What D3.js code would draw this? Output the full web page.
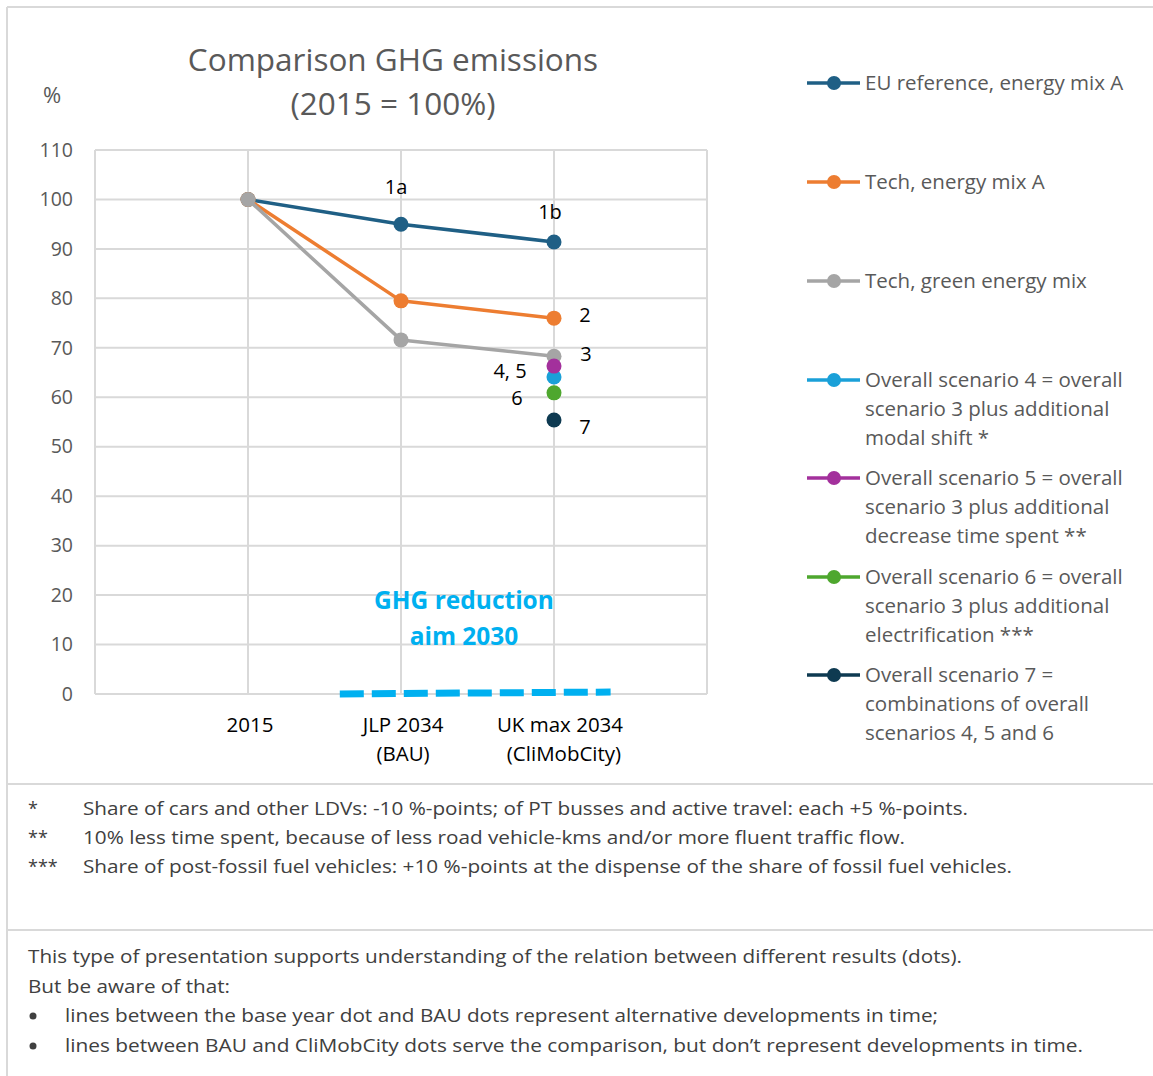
<!DOCTYPE html>
<html>
<head>
<meta charset="utf-8">
<script src="https://cdn.jsdelivr.net/npm/d3@7"></script>
<style>
  body { margin: 0; background: #fff; }
  svg text { font-family: "Open Sans", "Noto Sans", sans-serif; }
</style>
</head>
<body>
<div class="chart"></div>
<script>
// x positions of the three categories on a 0..4 axis
const catPos = [1, 2, 3];
const catLabels = [['2015'], ['JLP 2034', '(BAU)'], ['UK max 2034', '(CliMobCity)']];
const yTicks = [0, 10, 20, 30, 40, 50, 60, 70, 80, 90, 100, 110];

const seriesNames = [
	'EU reference, energy mix A',
	'Tech, energy mix A',
	'Tech, green energy mix',
	'Overall scenario 4 = overall|scenario 3 plus additional|modal shift *',
	'Overall scenario 5 = overall|scenario 3 plus additional|decrease time spent **',
	'Overall scenario 6 = overall|scenario 3 plus additional|electrification ***',
	'Overall scenario 7 =|combinations of overall|scenarios 4, 5 and 6'
];
const euRef = [100, 95.0, 91.4];
const techA = [100, 79.5, 76.0];
const techGreen = [100, 71.6, 68.3];
const scen4 = [null, null, 64.1];
const scen5 = [null, null, 66.3];
const scen6 = [null, null, 60.9];
const scen7 = [null, null, 55.4];

const aimX = [1.6, 3.37];
const aimY = [0, 0.4];
const aimLabel = ['GHG reduction', 'aim 2030'];

const footMarks = ['*', '**', '***'];
const footTexts = [
	'Share of cars and other LDVs: -10 %-points; of PT busses and active travel: each +5 %-points.',
	'10% less time spent, because of less road vehicle-kms and/or more fluent traffic flow.',
	'Share of post-fossil fuel vehicles: +10 %-points at the dispense of the share of fossil fuel vehicles.'
];
const noteTexts = [
	'This type of presentation supports understanding of the relation between different results (dots).',
	'But be aware of that:'
];
const bulletTexts = [
	'lines between the base year dot and BAU dots represent alternative developments in time;',
	'lines between BAU and CliMobCity dots serve the comparison, but don\u2019t represent developments in time.'
];

let Chart = (function (d3) {
	const W = 1153, H = 1076;
	const colors = ['#1f5f85', '#ed7d31', '#a5a5a5', '#1aa0d8', '#a3309c', '#4ea72e', '#0e3a51'];
	const allSeries = [euRef, techA, techGreen, scen4, scen5, scen6, scen7];
	const grid = '#d9d9d9';
	const textGrey = '#595959';

	const svg = d3.select('.chart').append('svg')
		.attr('width', W)
		.attr('height', H);

	svg.append('rect').attr('width', W).attr('height', H).attr('fill', '#fff');

	// frame and the two note boxes
	const frame = svg.append('g').attr('stroke', grid).attr('stroke-width', 2).attr('fill', 'none');
	frame.append('line').attr('x1', 7).attr('y1', 7).attr('x2', W).attr('y2', 7);
	frame.append('line').attr('x1', 7).attr('y1', 7).attr('x2', 7).attr('y2', H);
	frame.append('line').attr('x1', 7).attr('y1', 784).attr('x2', W).attr('y2', 784);
	frame.append('line').attr('x1', 7).attr('y1', 930).attr('x2', W).attr('y2', 930);

	// scales
	const x = d3.scaleLinear().domain([0, 4]).range([95, 707]);
	const y = d3.scaleLinear().domain([0, 110]).range([694, 150]);

	// gridlines
	const gridG = svg.append('g').attr('stroke', grid).attr('stroke-width', 2);
	gridG.selectAll('line.h')
		.data(yTicks)
		.enter().append('line')
		.attr('x1', x(0)).attr('x2', x(4))
		.attr('y1', d => y(d)).attr('y2', d => y(d));
	gridG.selectAll('line.v')
		.data([0, 1, 2, 3, 4])
		.enter().append('line')
		.attr('x1', d => x(d)).attr('x2', d => x(d))
		.attr('y1', y(0)).attr('y2', y(110));

	// y axis labels
	const yAxis = d3.axisLeft(y).tickValues(yTicks).tickSize(0).tickPadding(22);
	const yG = svg.append('g').attr('transform', 'translate(' + x(0) + ',0)').call(yAxis);
	yG.select('.domain').remove();
	yG.selectAll('text')
		.attr('fill', textGrey)
		.style('font-size', '19.5px')
		.style('font-family', '"Open Sans", sans-serif');

	// x labels
	const xl = svg.append('g');
	catPos.forEach(function (c, i) {
		const t = xl.append('text')
			.attr('text-anchor', 'middle')
			.attr('fill', '#000')
			.style('font-size', '20.5px');
		const xOff = i === 2 ? 6 : 2;
		catLabels[i].forEach(function (line, j) {
			t.append('tspan')
				.attr('x', x(c) + xOff + (j === 1 && i === 2 ? 4 : 0))
				.attr('y', 732 + j * 29)
				.text(line);
		});
	});

	// aim line
	const aimLine = d3.line().x((d, i) => x(aimX[i])).y(d => y(d));
	svg.append('path')
		.datum(aimY)
		.attr('d', aimLine)
		.attr('fill', 'none')
		.attr('stroke', '#00b0f0')
		.attr('stroke-width', 7)
		.attr('stroke-dasharray', '24,8');

	svg.append('g').selectAll('text')
		.data(aimLabel)
		.enter().append('text')
		.attr('x', 464)
		.attr('y', (d, i) => 609 + i * 36)
		.attr('text-anchor', 'middle')
		.attr('fill', '#00b0f0')
		.style('font-size', '24.5px')
		.style('font-weight', 'bold')
		.text(d => d);

	// series lines and dots
	const line = d3.line()
		.defined(d => d != null)
		.x((d, i) => x(catPos[i]))
		.y(d => y(d));

	allSeries.forEach(function (s, k) {
		svg.append('path')
			.datum(s)
			.attr('d', line)
			.attr('fill', 'none')
			.attr('stroke', colors[k])
			.attr('stroke-width', 3.5)
			.attr('stroke-linejoin', 'round');
		svg.append('g').selectAll('circle')
			.data(s.map((v, i) => ({ v: v, i: i })).filter(d => d.v != null))
			.enter().append('circle')
			.attr('cx', d => x(catPos[d.i]))
			.attr('cy', d => y(d.v))
			.attr('r', 7.5)
			.attr('fill', colors[k]);
	});

	// point labels: [series, point index, text, dx, dy]
	const ptLabels = [
		[0, 1, '1a', -5, -37],
		[0, 2, '1b', -4, -30],
		[1, 2, '2', 31, -3],
		[2, 2, '3', 32, -2],
		[4, 2, '4, 5', -44, 5],
		[5, 2, '6', -37, 5],
		[6, 2, '7', 31, 7]
	];
	svg.append('g').selectAll('text')
		.data(ptLabels)
		.enter().append('text')
		.attr('x', d => x(catPos[d[1]]) + d[3])
		.attr('y', d => y(allSeries[d[0]][d[1]]) + d[4])
		.attr('dy', '0.35em')
		.attr('text-anchor', 'middle')
		.attr('fill', '#000')
		.style('font-size', '20px')
		.text(d => d[2]);

	// title
	svg.append('text')
		.attr('x', 393).attr('y', 71)
		.attr('text-anchor', 'middle')
		.attr('fill', textGrey)
		.style('font-size', '31.5px')
		.text('Comparison GHG emissions');
	svg.append('text')
		.attr('x', 393).attr('y', 115)
		.attr('text-anchor', 'middle')
		.attr('fill', textGrey)
		.style('font-size', '31.5px')
		.text('(2015 = 100%)');
	svg.append('text')
		.attr('x', 52).attr('y', 103)
		.attr('text-anchor', 'middle')
		.attr('fill', textGrey)
		.style('font-size', '22px')
		.text('%');

	// legend
	const legTops = [83, 182, 281, 380, 478, 577, 675];
	seriesNames.forEach(function (name, k) {
		const g = svg.append('g').attr('transform', 'translate(0,' + legTops[k] + ')');
		g.append('line')
			.attr('x1', 807).attr('x2', 860)
			.attr('y1', 0).attr('y2', 0)
			.attr('stroke', colors[k])
			.attr('stroke-width', 3.5);
		g.append('circle')
			.attr('cx', 834).attr('cy', 0).attr('r', 7)
			.attr('fill', colors[k]);
		const t = g.append('text')
			.attr('fill', textGrey)
			.style('font-size', '20.5px');
		name.split('|').forEach(function (part, j) {
			t.append('tspan')
				.attr('x', 865)
				.attr('y', j * 29 + 7)
				.text(part);
		});
	});

	// footnotes
	const fn = svg.append('g').attr('fill', '#404040').style('font-size', '18px');
	const footLens = [885, 822, 929];
	footMarks.forEach(function (m, i) {
		fn.append('text').attr('x', 28).attr('y', 815 + i * 29).text(m);
		fn.append('text').attr('x', 83).attr('y', 815 + i * 29)
			.attr('textLength', footLens[i])
			.attr('lengthAdjust', 'spacingAndGlyphs')
			.text(footTexts[i]);
	});

	const noteLens = [934, 202];
	noteTexts.forEach(function (tx, i) {
		fn.append('text').attr('x', 28).attr('y', 963 + i * 29.5)
			.attr('textLength', noteLens[i])
			.attr('lengthAdjust', 'spacingAndGlyphs')
			.text(tx);
	});
	const bulletLens = [873, 1018];
	bulletTexts.forEach(function (tx, i) {
		fn.append('circle').attr('cx', 33).attr('cy', 1016 + i * 30).attr('r', 3.5);
		fn.append('text').attr('x', 65).attr('y', 1022 + i * 30)
			.attr('textLength', bulletLens[i])
			.attr('lengthAdjust', 'spacingAndGlyphs')
			.text(tx);
	});
})(d3);
</script>
</body>
</html>
